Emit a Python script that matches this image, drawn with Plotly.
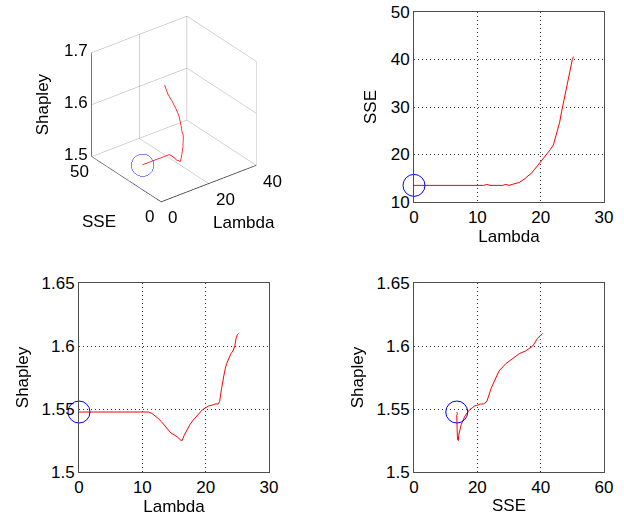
import plotly.graph_objects as go

# Regularisation path: penalty weight, fit error and Shapley value
lam = [0.0, 11.0, 11.5, 12.0, 12.5, 13.0, 13.5, 14.0, 14.5, 15.0, 15.5, 16.0,
       16.3, 16.6, 17.0, 17.5, 18.0, 18.5, 19.0, 19.5, 20.0, 20.5, 21.0, 21.5,
       22.0, 22.2, 22.5, 22.8, 23.0, 23.3, 23.6, 24.0, 24.3, 24.6, 24.8, 25.0, 25.2]
sse = [13.5, 13.5, 13.7, 13.5, 13.5, 13.5, 13.5, 13.5, 13.7, 13.5, 13.7, 13.8,
       14.0, 14.1, 14.4, 14.9, 15.5, 16.0, 16.8, 17.6, 18.4, 19.2, 20.0, 21.0,
       22.0, 23.0, 24.3, 25.8, 26.8, 29.0, 31.0, 33.3, 35.2, 37.5, 39.0, 40.0, 40.6]
shap = [1.5476, 1.5476, 1.5465, 1.5448, 1.5425, 1.540, 1.537, 1.534, 1.531, 1.5295,
        1.528, 1.5255, 1.5250, 1.529, 1.533, 1.5375, 1.541, 1.544, 1.547, 1.5495,
        1.551, 1.5525, 1.553, 1.554, 1.554, 1.556, 1.566, 1.575, 1.580, 1.586,
        1.590, 1.594, 1.596, 1.600, 1.606, 1.609, 1.610]

lam_ticks = [0, 10, 20, 30]
sse_ticks = [10, 20, 30, 40, 50]
shap_ticks = [1.5, 1.55, 1.6, 1.65]
shap_ticktext = ["1.5", "1.55", "1.6", "1.65"]
sse2_ticks = [0, 20, 40, 60]

lam3_ticks = [0, 20, 40]
sse3_ticks = [0, 50]
shap3_ticks = [1.5, 1.6, 1.7]

W, H = 624, 529
FONT = "Liberation Sans, Arial, sans-serif"
FS = 17
AXC = "#4d4d4d"
RED = "#ff0000"
BLUE = "#0000ff"


def px_dom(a, b, total, flip=False):
    if flip:
        return [(total - b) / total, (total - a) / total]
    return [a / total, b / total]


fig = go.Figure()

# 3-D view of the path
fig.add_trace(go.Scatter3d(x=lam, y=sse, z=shap, mode="lines",
                           line=dict(color=RED, width=1.5), scene="scene",
                           showlegend=False))
fig.add_trace(go.Scatter3d(x=[lam[0]], y=[sse[0]], z=[shap[0]], mode="markers",
                           marker=dict(symbol="circle", size=13,
                                       color="rgba(0,0,255,0)",
                                       line=dict(color=BLUE, width=1)),
                           scene="scene", showlegend=False))

# 2-D projections
panels = [
    ("x", "y", lam, sse),
    ("x2", "y2", lam, shap),
    ("x3", "y3", sse, shap),
]
for xa, ya, xs, ys in panels:
    fig.add_trace(go.Scatter(x=xs, y=ys, mode="lines", xaxis=xa, yaxis=ya,
                             line=dict(color=RED, width=1), showlegend=False))
    fig.add_trace(go.Scatter(x=[xs[0]], y=[ys[0]], mode="markers", xaxis=xa,
                             yaxis=ya, cliponaxis=False, showlegend=False,
                             marker=dict(symbol="circle-open", size=22,
                                         color=BLUE, line=dict(color=BLUE, width=1))))

common = dict(showline=True, mirror=True, linecolor=AXC, linewidth=1,
              showgrid=True, gridcolor="#333333", griddash="1px,3px", gridwidth=1,
              zeroline=False, ticks="", tickfont=dict(size=FS, color="#000"),
              title_font=dict(size=FS, color="#000"), fixedrange=True,
              automargin=False)

top = px_dom(12, 202, H, flip=True)
bot = px_dom(283, 472, H, flip=True)
right = px_dom(414, 604, W)
left = px_dom(79, 269, W)

ax3 = dict(showgrid=True, gridcolor="#a8a8a8", gridwidth=1, showline=True,
           linecolor="#222222", linewidth=1.5, zeroline=False, showbackground=False,
           showspikes=False, ticks="", showticklabels=False, title=dict(text=""))

# 3-D tick labels and titles as scene annotations (kept upright)
ann3 = []
tf = dict(family=FONT, size=FS, color="#000")
for v in lam3_ticks:
    ann3.append(dict(x=v, y=0, z=1.5, text=str(v), showarrow=False, font=tf,
                     xanchor="left", yanchor="middle", xshift=5, yshift=-16))
for v in sse3_ticks:
    ann3.append(dict(x=0, y=v, z=1.5, text=str(v), showarrow=False, font=tf,
                     xanchor="center", yanchor="middle", xshift=-12, yshift=-15))
for v in shap3_ticks:
    ann3.append(dict(x=0, y=50, z=v, text=f"{v:.1f}", showarrow=False, font=tf,
                     xanchor="right", yanchor="middle", xshift=-2, yshift=2))
ann3.append(dict(x=20, y=0, z=1.5, text="Lambda", showarrow=False, font=tf,
                 xanchor="center", yanchor="middle", xshift=35, yshift=-39))
ann3.append(dict(x=0, y=25, z=1.5, text="SSE", showarrow=False, font=tf,
                 xanchor="center", yanchor="middle", xshift=-27, yshift=-42))
ann3.append(dict(x=0, y=50, z=1.6, text="Shapley", showarrow=False, font=tf,
                 textangle=-90, xanchor="center", yanchor="middle", xshift=-49))

fig.update_layout(
    width=W, height=H, margin=dict(l=0, r=0, t=0, b=0, autoexpand=False),
    paper_bgcolor="white", plot_bgcolor="white",
    font=dict(family=FONT, size=FS, color="#000"),
    xaxis=dict(domain=right, range=[0, 30], tickvals=lam_ticks,
               title=dict(text="Lambda", standoff=2), anchor="y", **common),
    yaxis=dict(domain=top, range=[10, 50], tickvals=sse_ticks,
               title=dict(text="SSE", standoff=9), anchor="x", **common),
    xaxis2=dict(domain=left, range=[0, 30], tickvals=lam_ticks,
                title=dict(text="Lambda", standoff=2), anchor="y2", **common),
    yaxis2=dict(domain=bot, range=[1.5, 1.65], tickvals=shap_ticks,
                ticktext=shap_ticktext,
                title=dict(text="Shapley", standoff=8), anchor="x2", **common),
    xaxis3=dict(domain=right, range=[0, 60], tickvals=sse2_ticks,
                title=dict(text="SSE", standoff=2), anchor="y3", **common),
    yaxis3=dict(domain=bot, range=[1.5, 1.65], tickvals=shap_ticks,
                ticktext=shap_ticktext,
                title=dict(text="Shapley", standoff=8), anchor="x3", **common),
    scene=dict(
        domain=dict(x=px_dom(24, 324, W), y=px_dom(9, 209, H, flip=True)),
        xaxis=dict(range=[0, 40], tickvals=lam3_ticks, **ax3),
        yaxis=dict(range=[0, 50], tickvals=sse3_ticks, **ax3),
        zaxis=dict(range=[1.5, 1.7], tickvals=shap3_ticks, **ax3),
        aspectmode="manual", aspectratio=dict(x=1.2, y=1.14, z=1.2),
        camera=dict(projection=dict(type="orthographic"),
                    up=dict(x=0, y=0, z=1), center=dict(x=0, y=0, z=0),
                    eye=dict(x=-0.527 * 1.64, y=-0.687 * 1.64, z=0.5 * 1.64)),
        bgcolor="rgba(0,0,0,0)",
        annotations=ann3,
    ),
)

fig.write_html("out.html")
